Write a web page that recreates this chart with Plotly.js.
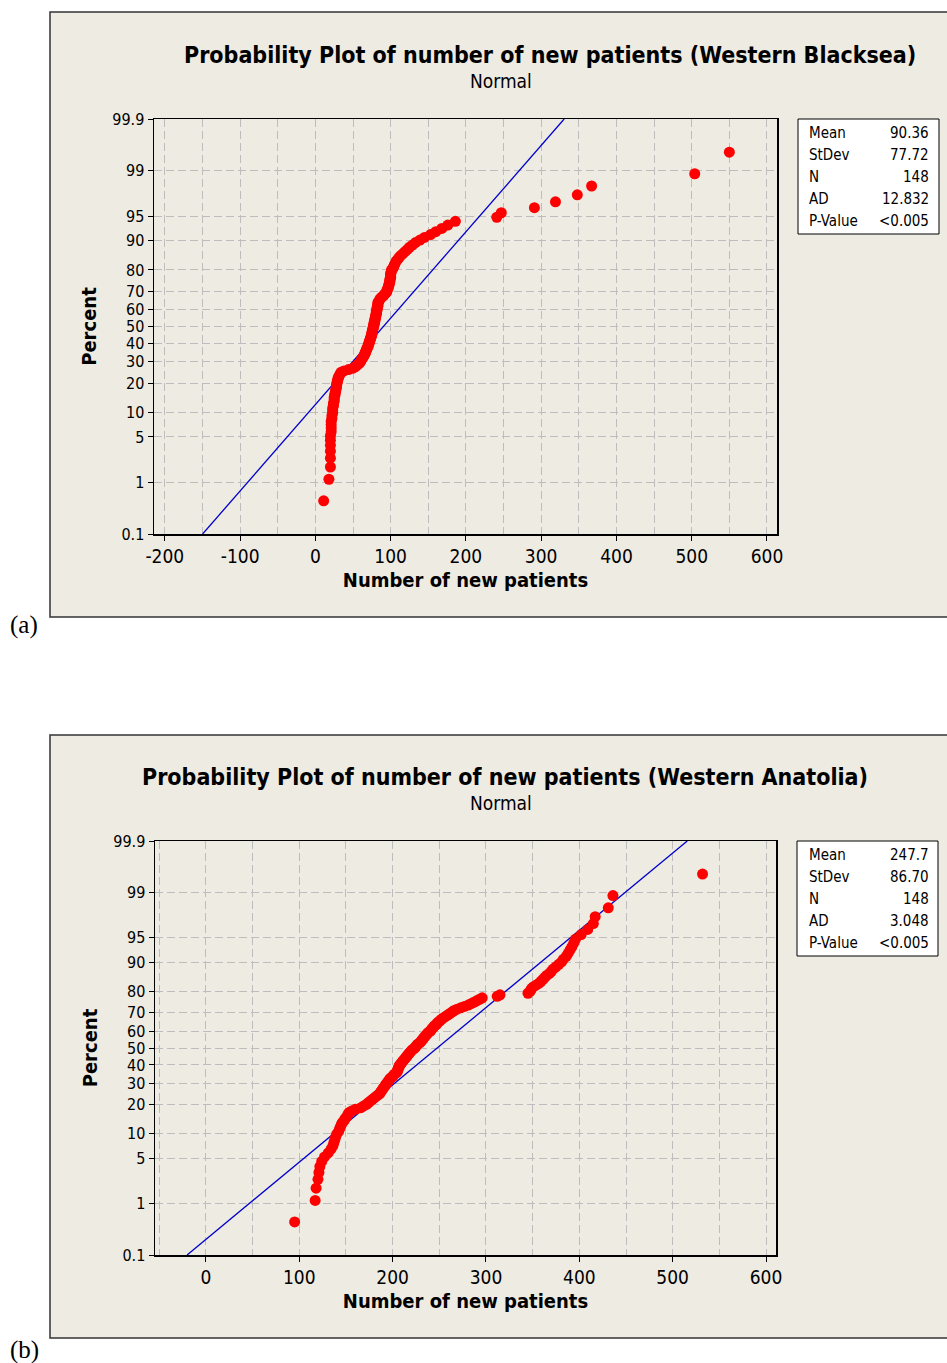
<!DOCTYPE html>
<html>
<head>
<meta charset="utf-8">
<script src="https://cdn.plot.ly/plotly-3.0.1.min.js"></script>
<style>
  html, body { margin: 0; padding: 0; background: #ffffff; }
  #chart { width: 947px; height: 1363px; }
</style>
</head>
<body>
<div id="chart"></div>
<script>
// ---------------- DATA ----------------
const pctTicks = [0.1, 1, 5, 10, 20, 30, 40, 50, 60, 70, 80, 90, 95, 99, 99.9];
const pctTickText = ['0.1', '1', '5', '10', '20', '30', '40', '50', '60', '70', '80', '90', '95', '99', '99.9'];

const xTicksA = [-200, -100, 0, 100, 200, 300, 400, 500, 600];
const xTickTextA = ['-200', '-100', '0', '100', '200', '300', '400', '500', '600'];
const xTicksB = [0, 100, 200, 300, 400, 500, 600];
const xTickTextB = ['0', '100', '200', '300', '400', '500', '600'];

const titleA = 'Probability Plot of number of new patients (Western Blacksea)';
const titleB = 'Probability Plot of number of new patients (Western Anatolia)';
const subTitle = 'Normal';
const xTitle = 'Number of new patients';
const yTitle = 'Percent';

// sorted observations (Western Blacksea), n = 148
const xBlacksea = [11, 18, 20,
  20, 20, 20, 20, 20,
  21, 21, 21, 21,
  22, 22, 23, 23, 23,
  24, 24, 25, 25, 25,
  26, 26, 27, 27, 28, 28,
  28, 29, 29, 30, 30,
  31, 32, 33, 34,
  38, 44, 50,
  53, 55, 57, 59,
  60, 61, 62, 63, 64, 65,
  66, 66, 67, 68, 68, 69, 70,
  70, 71, 71, 72, 72, 73, 73, 74, 74,
  75, 75, 75, 76, 76, 76, 77, 77,
  77, 78, 78, 78, 79, 79, 79, 80, 80, 80, 81, 81,
  81, 81, 82, 82, 82, 83, 83, 83, 83,
  84, 85, 86, 87,
  89, 91, 92, 94,
  95, 95, 96, 97, 97, 98, 98,
  99, 99, 99, 100, 100, 100, 100, 101, 101,
  103, 104, 105, 106, 107,
  109, 111, 113, 116,
  119, 122, 125,
  129, 133,
  139, 145,
  153, 160,
  168, 176,
  186, 241, 247, 291, 319, 348, 367, 504, 550];

// sorted observations (Western Anatolia), n = 148
const xAnatolia = [95, 117, 118, 120, 121, 122, 124, 127, 131, 134,
  136, 137, 138, 139, 140, 142, 143, 144, 145, 146,
  148, 149, 151, 152, 153, 156, 160, 166, 169, 172,
  174, 176, 178, 180, 182, 184, 186, 187, 188, 189,
  190, 191, 192, 193, 194, 195, 196, 197, 198, 200,
  201, 202, 204, 205, 205, 206, 206, 207, 207, 208,
  209, 210, 211, 212, 213, 214, 215, 216, 217, 218,
  219, 220, 221, 223,
  224, 225, 226, 227, 229, 230, 231, 232, 233, 234,
  235, 236, 237, 238, 240, 241, 242, 243, 244, 245,
  247, 248, 249, 251, 252, 254, 256, 258, 260, 262,
  264, 266, 269, 273, 277, 281, 284, 287, 290, 293,
  296, 312, 315, 345, 347, 348, 349, 351, 354, 357,
  359, 361, 363, 365, 368, 370, 372, 375, 378, 381,
  383, 386, 388, 390, 392, 394, 396, 402, 409, 415,
  417, 431, 436, 532];

const statLabels = ['Mean', 'StDev', 'N', 'AD', 'P-Value'];
const statsBlacksea = ['90.36', '77.72', '148', '12.832', '<0.005'];
const statsAnatolia = ['247.7', '86.70', '148', '3.048', '<0.005'];

// ---------------- HELPERS ----------------
// inverse standard normal CDF (Acklam)
function normInv(p) {
  const a = [-3.969683028665376e+01, 2.209460984245205e+02, -2.759285104469687e+02, 1.383577518672690e+02, -3.066479806614716e+01, 2.506628277459239e+00];
  const b = [-5.447609879822406e+01, 1.615858368580409e+02, -1.556989798598866e+02, 6.680131188771972e+01, -1.328068155288572e+01];
  const c = [-7.784894002430293e-03, -3.223964580411365e-01, -2.400758277161838e+00, -2.549671010283393e+00, 4.374664141464968e+00, 2.938163982698783e+00];
  const d = [7.784695709041462e-03, 3.224671290700398e-01, 2.445134137142996e+00, 3.754408661907416e+00];
  const pl = 0.02425, ph = 1 - pl;
  let q, r;
  if (p < pl) {
    q = Math.sqrt(-2 * Math.log(p));
    return (((((c[0]*q+c[1])*q+c[2])*q+c[3])*q+c[4])*q+c[5]) / ((((d[0]*q+d[1])*q+d[2])*q+d[3])*q+1);
  } else if (p <= ph) {
    q = p - 0.5; r = q*q;
    return (((((a[0]*r+a[1])*r+a[2])*r+a[3])*r+a[4])*r+a[5])*q / (((((b[0]*r+b[1])*r+b[2])*r+b[3])*r+b[4])*r+1);
  } else {
    q = Math.sqrt(-2 * Math.log(1 - p));
    return -(((((c[0]*q+c[1])*q+c[2])*q+c[3])*q+c[4])*q+c[5]) / ((((d[0]*q+d[1])*q+d[2])*q+d[3])*q+1);
  }
}
// median-rank plotting positions, as in the original probability plot
function zScores(arr) {
  const n = arr.length;
  return arr.map((_, i) => normInv((i + 1 - 0.3) / (n + 0.4)));
}

const W = 947, H = 1363;
const PX = v => v / W;
const PY = v => 1 - v / H;

const zLo = normInv(0.001), zHi = normInv(0.999);
const tickZ = pctTicks.map(p => normInv(p / 100));

const FONT = '"DejaVu Sans Condensed", "Liberation Sans Narrow", "DejaVu Sans", sans-serif';
const RED = '#FF0000', BLUE = '#0000CC', GRID = '#BDBDBD';

function fitLine(stats, xa, ya) {
  const m = parseFloat(stats[0]), s = parseFloat(stats[1]);
  return {
    x: [m + s * zLo, m + s * zHi], y: [zLo, zHi],
    xaxis: xa, yaxis: ya, type: 'scatter', mode: 'lines',
    line: { color: BLUE, width: 1.3 }, hoverinfo: 'skip', showlegend: false
  };
}
function points(arr, xa, ya) {
  return {
    x: arr, y: zScores(arr), xaxis: xa, yaxis: ya,
    type: 'scatter', mode: 'markers',
    marker: { color: RED, size: 11, line: { width: 0 } }, showlegend: false
  };
}

const data = [
  fitLine(statsBlacksea, 'x', 'y'),
  points(xBlacksea, 'x', 'y'),
  fitLine(statsAnatolia, 'x2', 'y2'),
  points(xAnatolia, 'x2', 'y2')
];

function xAxis(domain, range, anchor, tv, tt) {
  return {
    domain: domain, range: range, anchor: anchor,
    tickmode: 'array', tickvals: tv, ticktext: tt,
    ticks: 'outside', ticklen: 5, tickwidth: 1, tickcolor: '#000',
    showline: true, mirror: true, linecolor: '#000', linewidth: 1.5,
    showgrid: true, gridcolor: GRID, gridwidth: 1, griddash: '8px,4px',
    zeroline: false, fixedrange: true,
    minor: { tick0: 0, dtick: 50, showgrid: true, gridcolor: GRID, gridwidth: 1, griddash: '8px,4px', ticklen: 0 },
    tickfont: { family: FONT, size: 19, color: '#000' },
    title: { text: xTitle, font: { family: FONT, size: 20, color: '#000', weight: 'bold' }, standoff: 6 }
  };
}
function yAxis(domain, anchor) {
  return {
    domain: domain, range: [zLo, zHi], anchor: anchor,
    tickmode: 'array', tickvals: tickZ, ticktext: pctTickText,
    ticks: 'outside', ticklen: 5, tickwidth: 1, tickcolor: '#000',
    showline: true, mirror: true, linecolor: '#000', linewidth: 1.5,
    showgrid: true, gridcolor: GRID, gridwidth: 1, griddash: '8px,4px',
    zeroline: false, fixedrange: true,
    tickfont: { family: FONT, size: 16, color: '#000' },
    title: { text: yTitle, font: { family: FONT, size: 20, color: '#000', weight: 'bold' }, standoff: 10 }
  };
}

// plot-area pixel boxes
const boxA = { l: 154, r: 777, t: 119, b: 534 };
const boxB = { l: 155, r: 776, t: 841, b: 1255 };

const shapes = [
  { type: 'rect', xref: 'paper', yref: 'paper', x0: PX(50), x1: PX(960), y0: PY(12), y1: PY(617),
    fillcolor: '#EEEBE2', line: { color: '#333', width: 1.5 }, layer: 'below' },
  { type: 'rect', xref: 'paper', yref: 'paper', x0: PX(50), x1: PX(960), y0: PY(735), y1: PY(1338),
    fillcolor: '#EEEBE2', line: { color: '#333', width: 1.5 }, layer: 'below' },
  // stats boxes
  { type: 'rect', xref: 'paper', yref: 'paper', x0: PX(798), x1: PX(939), y0: PY(119), y1: PY(234),
    fillcolor: '#FFFFFF', line: { color: '#000', width: 1 } },
  { type: 'rect', xref: 'paper', yref: 'paper', x0: PX(797), x1: PX(938), y0: PY(841), y1: PY(956),
    fillcolor: '#FFFFFF', line: { color: '#000', width: 1 } }
];

const annotations = [];
function txt(text, x, y, opts) {
  annotations.push(Object.assign({
    text: text, xref: 'paper', yref: 'paper', x: PX(x), y: PY(y),
    xanchor: 'center', yanchor: 'middle', showarrow: false,
    font: { family: FONT, size: 16, color: '#000' }
  }, opts || {}));
}
txt(titleA, 550, 55, { font: { family: FONT, size: 23, color: '#000', weight: 'bold' } });
txt(subTitle, 501, 81, { font: { family: FONT, size: 19, color: '#000' } });
txt(titleB, 505, 777, { font: { family: FONT, size: 23, color: '#000', weight: 'bold' } });
txt(subTitle, 501, 803, { font: { family: FONT, size: 19, color: '#000' } });

function statBox(vals, top) {
  statLabels.forEach((lab, i) => {
    const y = top + 14 + i * 22;
    txt(lab, 807, y, { xanchor: 'left', font: { family: FONT, size: 15, color: '#000' } });
    txt(vals[i], 931, y, { xanchor: 'right', font: { family: FONT, size: 15, color: '#000' } });
  });
}
statBox(statsBlacksea, 119);
statBox(statsAnatolia, 841);

txt('(a)', 8, 625, { xanchor: 'left', font: { family: '"Liberation Serif", "Times New Roman", serif', size: 25, color: '#000' } });
txt('(b)', 8, 1350, { xanchor: 'left', font: { family: '"Liberation Serif", "Times New Roman", serif', size: 25, color: '#000' } });

const layout = {
  width: W, height: H,
  margin: { l: 0, r: 0, t: 0, b: 0 },
  paper_bgcolor: '#FFFFFF', plot_bgcolor: '#FFFFFF',
  showlegend: false,
  xaxis: xAxis([PX(boxA.l), PX(boxA.r)], [-214.4, 613.3], 'y', xTicksA, xTickTextA),
  yaxis: yAxis([PY(boxA.b), PY(boxA.t)], 'x'),
  xaxis2: xAxis([PX(boxB.l), PX(boxB.r)], [-54.6, 610.7], 'y2', xTicksB, xTickTextB),
  yaxis2: yAxis([PY(boxB.b), PY(boxB.t)], 'x2'),
  shapes: shapes,
  annotations: annotations
};

Plotly.newPlot('chart', data, layout, { staticPlot: true, displayModeBar: false });
</script>
</body>
</html>
